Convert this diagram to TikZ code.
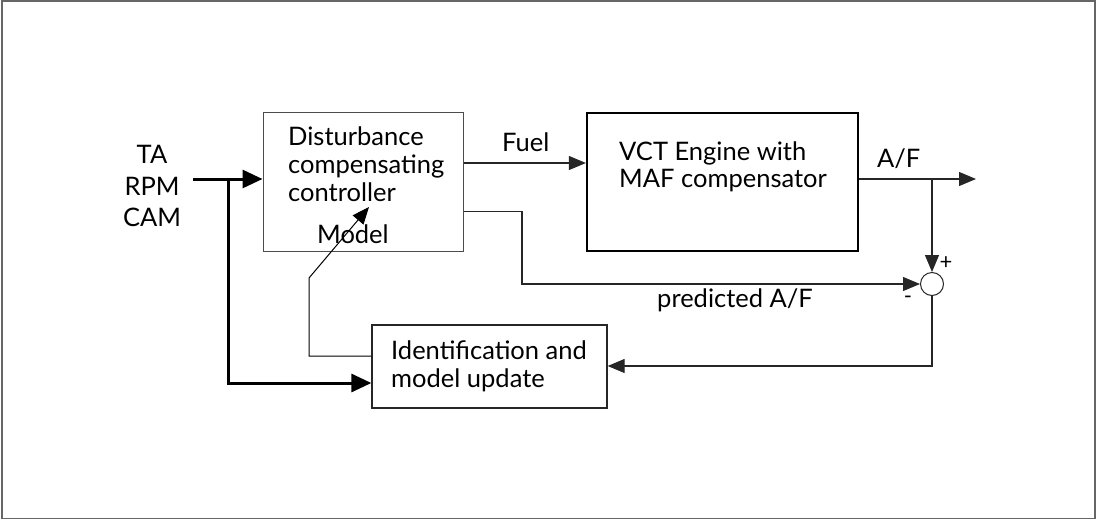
\documentclass[tikz,border=0pt]{standalone}
\usepackage{fontspec}
\setmainfont{Lato}
\usetikzlibrary{arrows.meta,calc}
\begin{document}
\begin{tikzpicture}[x=1pt,y=-1pt,
  lbl/.style={inner sep=0pt,anchor=base west,font=\fontsize{25.5}{30}\selectfont},
  clbl/.style={inner sep=0pt,anchor=base,font=\fontsize{25.5}{30}\selectfont},
  sgn/.style={inner sep=0pt,font=\fontsize{22}{24}\selectfont},
  blk/.style={draw,rectangle,inner sep=0pt},
  thin/.style={draw=black!85,line width=1.1pt},
  heavy/.style={draw=black,line width=3pt},
  tip/.style={-{Triangle[length=17pt,width=14pt]}},
  bigtip/.style={-{Triangle[length=20pt,width=18pt]}}]
\useasboundingbox (0,0) rectangle (1096,520);
\draw[black!60,line width=1.2pt] (2,1) rectangle (1095,518.5);

% blocks
\node[blk,draw=black!70,line width=1pt,minimum width=200pt,minimum height=139pt] (ctrl) at (363,181.5) {};
\node[blk,draw=black,line width=2.2pt,minimum width=271pt,minimum height=138pt] (eng) at (722.5,182) {};
\node[blk,draw=black!85,line width=1.3pt,minimum width=235pt,minimum height=83pt] (ident) at (489.5,366.5) {};
\node[draw=black!85,line width=1pt,circle,minimum size=23pt,inner sep=0pt] (sum) at (932,284) {};

% text
\node[clbl] (ta) at (152,163) {TA};
\node[clbl] (rpm) at (152,195) {RPM};
\node[clbl] (cam) at (152,226) {CAM};
\node[lbl] (t1) at (288,145) {Disturbance};
\node[lbl] (t2) at (288,173) {compensating};
\node[lbl] (t3) at (288,201) {controller};
\node[lbl] (mdl) at (317,243) {Model};
\node[lbl] (fuel) at (502,151) {Fuel};
\node[lbl] (e1) at (619,160) {VCT Engine with};
\node[lbl] (e2) at (619,187) {MAF compensator};
\node[lbl] (af) at (877,167) {A/F};
\node[lbl] (paf) at (657,307) {predicted A/F};
\node[lbl] (i1) at (391,359) {Identification and};
\node[lbl] (i2) at (391,387) {model update};
\node[sgn] (plus) at (946,263) {+};
\node[sgn] (minus) at (908,300) {-};

% connectors
\coordinate (in) at (193,179);
\coordinate (br) at (228,179);
\coordinate (out) at (976,179);
\coordinate (tap) at (932,179);
\draw[heavy,bigtip] (in) -- (in -| ctrl.west);
\draw[heavy,bigtip,line join=miter] (br) -- (228,383) -- (ident.west |- 0,383);
\draw[thin,tip] (ctrl.east |- 0,163) -- (eng.west |- 0,163);
\draw[thin,tip] (eng.east |- 0,179) -- (out);
\draw[thin,tip] (tap) -- (sum.north);
\draw[thin,tip] (ctrl.east |- 0,211.5) -- (522,211.5) -- (522,284) -- (sum.west);
\draw[thin,tip] (sum.south) -- (932,366) -- (ident.east |- 0,366);
\draw[draw=black,line width=1pt,tip] (ident.west |- 0,356) -- (309,356) -- (309,278) -- (369,207);
\end{tikzpicture}
\end{document}
